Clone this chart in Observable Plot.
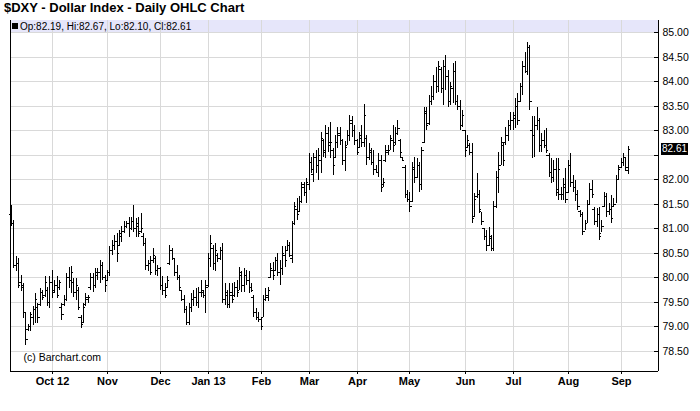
<!DOCTYPE html>
<html>
<head>
<meta charset="utf-8">
<script src="https://cdn.jsdelivr.net/npm/d3@7"></script>
<script src="https://cdn.jsdelivr.net/npm/@observablehq/plot@0.6"></script>
<style>
  html, body { margin: 0; padding: 0; background: #fff; }
  #wrap { position: relative; width: 700px; height: 411px; overflow: hidden; font-family: "Liberation Sans", Arial, sans-serif; }
  #title { position: absolute; left: 4px; top: 0px; font: bold 13px "Liberation Sans", Arial, sans-serif; line-height: 16px; color: #000; white-space: nowrap; }
  #hdr { position: absolute; left: 12px; top: 21px; font: 10px "Liberation Sans", Arial, sans-serif; line-height: 11px; color: #000; white-space: nowrap; }
  #hdr .sq { display: inline-block; width: 6px; height: 6px; background: #000; margin-right: 2px; vertical-align: 1px; }
  #last { position: absolute; left: 661px; width: 27px; height: 12px; background: #000; color: #fff; font: 10px "Liberation Sans", Arial, sans-serif; line-height: 12px; text-align: center; }
</style>
</head>
<body>
<div id="wrap">
  <div id="chart"></div>
  <div id="title">$DXY - Dollar Index - Daily OHLC Chart</div>
  <div id="hdr"></div>
  <div id="last"></div>
</div>
<script>
// Daily bars, Sep 6 2012 .. Sep 6 2013 (one row of numbers per month)
const open = [
  81.30,81.10,80.25,80.30,79.90,79.80,79.30,78.95,79.00,79.20,79.35,79.40,79.45,79.70,79.65,79.75,79.50,
  79.90,79.75,79.85,79.80,79.40,79.45,79.55,80.00,79.95,79.90,79.70,79.75,79.20,79.10,79.45,79.55,79.80,80.00,79.85,80.05,80.10,80.25,80.00,
  79.95,80.10,80.55,80.65,80.75,80.65,80.85,80.95,81.05,81.10,81.00,81.15,81.00,81.05,80.95,80.85,80.70,80.25,80.30,80.35,80.40,80.15,
  80.20,79.85,79.75,79.80,80.30,80.55,80.39,80.10,80.00,79.75,79.55,79.35,79.10,79.40,79.55,79.60,79.50,79.70,79.70,79.65,
  79.85,80.40,80.60,80.30,80.45,80.40,80.55,79.55,79.65,79.45,79.65,79.65,79.80,79.75,80.05,79.85,80.05,79.95,79.80,79.60,79.30,79.20,
  79.15,79.20,79.55,79.60,80.00,80.15,80.15,80.35,80.10,80.20,80.45,80.55,80.65,80.40,81.10,81.40,81.35,81.55,81.85,81.75,
  81.90,82.35,82.10,82.45,82.30,82.40,82.80,82.55,82.95,82.70,82.60,82.45,82.75,82.90,82.80,82.40,82.70,82.90,83.15,83.00,
  82.80,82.65,82.85,82.75,82.85,82.45,82.55,82.35,82.20,82.15,82.40,81.90,82.40,82.55,82.60,82.80,82.75,82.95,82.80,82.45,82.25,81.70,
  81.60,81.55,82.20,82.05,82.30,81.90,82.75,83.35,83.15,83.60,83.70,84.00,83.90,84.25,83.85,84.30,84.10,83.60,83.85,84.20,83.60,83.50,83.10,
  83.00,82.65,82.70,82.55,81.25,81.65,81.70,81.35,81.00,80.85,80.65,80.80,80.60,81.45,82.05,82.30,82.70,82.75,82.90,83.10,
  83.20,83.25,83.50,83.60,83.90,84.30,84.20,84.70,83.00,82.90,83.10,83.20,82.70,82.80,82.70,82.50,82.15,82.05,82.20,81.80,81.70,81.70,81.85,
  81.75,82.30,81.95,81.85,81.70,81.35,81.30,80.95,81.10,81.50,81.80,81.40,81.15,81.30,80.90,81.45,81.65,81.35,81.40,81.45,81.50,82.00,
  82.25,82.35,82.45,82.19
];
const high = [
  81.48,81.17,80.43,80.39,80.05,79.88,79.30,79.05,79.30,79.41,79.68,79.47,79.78,79.75,80.02,79.81,80.02,
  80.15,79.95,80.02,79.95,79.47,79.64,80.09,80.22,80.24,79.98,79.98,79.81,79.24,79.47,79.68,79.64,80.09,80.09,80.19,80.19,80.36,80.32,80.05,
  80.15,80.63,80.76,80.87,80.90,80.97,81.04,81.14,81.14,81.24,81.24,81.48,81.20,81.24,81.31,80.90,80.80,80.36,80.43,80.59,80.43,80.26,
  80.22,80.02,79.88,80.02,80.66,80.59,80.39,80.26,80.05,79.75,79.64,79.41,79.47,79.68,79.75,79.78,79.81,79.95,79.75,79.95,
  80.49,80.87,80.66,80.70,80.49,80.62,80.70,79.88,79.75,79.88,79.88,79.90,79.95,80.22,80.12,80.19,80.15,80.12,79.88,79.64,79.37,79.30,
  79.20,79.64,79.78,79.81,80.29,80.32,80.42,80.49,80.36,80.63,80.63,80.76,80.73,81.14,81.54,81.61,81.65,81.95,81.95,82.02,
  82.53,82.46,82.53,82.60,82.63,82.97,82.83,83.11,83.07,83.17,82.63,82.90,83.07,83.07,82.83,82.77,83.00,83.31,83.28,83.11,
  82.83,82.97,83.11,83.53,82.90,82.73,82.63,82.59,82.29,82.53,82.49,82.02,82.70,82.70,82.90,83.11,83.07,83.21,82.83,82.46,82.29,81.78,
  81.75,82.36,82.46,82.43,82.36,82.66,83.48,83.48,83.72,83.89,84.12,84.29,84.40,84.29,84.43,84.53,84.23,83.99,84.36,84.40,83.72,83.62,83.41,
  83.00,82.90,82.73,82.73,81.71,82.12,81.78,81.34,81.00,80.96,81.03,80.87,81.55,82.16,82.56,82.87,82.73,83.07,83.21,83.38,
  83.38,83.65,83.75,83.96,84.40,84.60,84.80,84.73,83.28,83.28,83.48,83.24,82.94,83.00,83.04,82.53,82.43,82.39,82.43,82.43,81.85,82.02,82.22,
  82.39,82.53,82.09,81.99,81.78,81.38,81.34,81.17,81.58,81.92,81.99,81.44,81.41,81.44,81.17,81.75,81.71,81.51,81.68,81.61,82.09,82.29,
  82.43,82.53,82.46,82.67
];
const low = [
  81.04,80.19,80.12,79.78,79.72,79.18,78.63,78.90,78.90,79.03,79.07,79.07,79.41,79.54,79.61,79.41,79.37,
  79.58,79.68,79.58,79.75,79.14,79.41,79.51,79.78,79.68,79.61,79.54,79.34,78.97,79.07,79.41,79.47,79.75,79.71,79.78,79.95,79.88,79.95,79.71,
  79.92,80.02,80.46,80.56,80.32,80.63,80.73,80.90,81.00,80.83,80.97,80.93,80.83,80.83,80.90,80.63,80.15,80.12,80.05,80.29,80.05,80.02,
  79.75,79.64,79.58,79.78,80.26,80.36,80.02,79.95,79.75,79.51,79.27,79.03,79.03,79.30,79.41,79.41,79.37,79.61,79.58,79.27,
  79.81,80.22,80.15,80.12,80.32,80.35,79.47,79.44,79.37,79.37,79.47,79.61,79.61,79.75,79.71,79.71,79.85,79.68,79.71,79.20,79.13,79.10,
  78.92,79.20,79.51,79.51,79.98,79.95,80.12,80.02,79.85,80.05,80.22,80.53,80.42,80.29,81.07,81.17,81.34,81.51,81.65,81.51,
  81.78,82.12,81.95,82.12,81.99,82.12,82.46,82.43,82.56,82.43,82.09,82.43,82.63,82.70,82.29,82.16,82.70,82.77,82.87,82.70,
  82.50,82.63,82.66,82.66,82.29,82.39,82.29,82.09,82.12,82.05,81.75,81.85,82.36,82.49,82.59,82.56,82.70,82.90,82.43,82.39,81.61,81.54,
  81.34,81.54,81.92,82.02,81.75,81.78,82.73,83.00,83.11,83.51,83.61,83.75,83.78,83.75,83.51,83.82,83.48,83.51,83.55,83.51,83.41,83.00,83.07,
  82.46,82.63,82.49,81.10,81.24,81.61,81.31,81.07,80.76,80.53,80.63,80.53,80.53,81.41,81.71,82.29,82.26,82.70,82.77,83.00,
  83.00,83.04,83.11,83.58,83.72,84.16,84.12,83.41,82.43,82.46,83.00,82.56,82.56,82.63,82.53,82.05,81.92,81.95,81.65,81.58,81.58,81.58,81.51,
  81.71,81.85,81.75,81.55,81.38,81.24,80.87,80.97,81.10,81.48,81.61,81.07,81.03,80.76,80.93,81.44,81.24,81.27,81.10,81.44,81.51,81.99,
  82.22,82.26,82.16,82.10
];
const close = [
  81.10,80.25,80.30,79.85,79.85,79.30,78.75,79.00,79.25,79.35,79.55,79.20,79.70,79.60,79.90,79.50,79.90,
  79.70,79.85,79.65,79.90,79.25,79.55,80.00,79.95,80.10,79.70,79.85,79.40,79.05,79.40,79.60,79.60,80.00,79.85,80.10,80.10,80.25,80.00,79.85,
  80.10,80.55,80.65,80.75,80.50,80.90,80.95,81.05,81.10,81.00,81.15,81.00,81.10,80.90,81.00,80.70,80.25,80.30,80.10,80.45,80.15,80.20,
  79.85,79.75,79.65,79.95,80.55,80.40,80.10,80.00,79.80,79.55,79.35,79.10,79.40,79.55,79.60,79.50,79.70,79.75,79.65,79.80,
  80.40,80.70,80.30,80.55,80.40,80.55,79.55,79.70,79.45,79.70,79.55,79.80,79.70,80.10,79.85,80.05,79.95,79.80,79.75,79.30,79.20,79.15,
  79.00,79.55,79.65,79.75,80.20,80.05,80.35,80.10,80.20,80.50,80.35,80.65,80.45,81.10,81.45,81.30,81.55,81.90,81.75,81.95,
  82.35,82.20,82.45,82.30,82.50,82.85,82.60,82.95,82.75,82.75,82.30,82.75,82.95,82.80,82.40,82.65,82.90,83.20,83.00,82.80,
  82.55,82.90,82.75,83.30,82.45,82.60,82.35,82.20,82.15,82.40,81.85,81.95,82.60,82.60,82.85,82.70,82.95,83.05,82.55,82.40,81.70,81.60,
  81.45,82.25,82.05,82.30,81.90,82.60,83.40,83.10,83.60,83.70,84.00,83.90,84.30,83.85,84.30,84.10,83.60,83.90,84.20,83.60,83.50,83.10,83.30,
  82.60,82.80,82.55,81.20,81.60,81.70,81.40,81.15,80.85,80.65,80.85,80.60,81.45,82.05,82.20,82.75,82.40,82.90,83.10,83.20,
  83.30,83.50,83.20,83.90,84.30,84.20,84.70,83.60,82.90,83.10,83.20,82.70,82.80,82.70,82.60,82.15,82.05,82.20,81.75,82.20,81.70,81.90,81.60,
  82.30,81.95,81.85,81.70,81.45,81.30,80.95,81.10,81.50,81.80,81.70,81.15,81.30,80.85,81.05,81.65,81.35,81.40,81.20,81.50,82.00,82.20,
  82.35,82.45,82.25,82.61
];
// index of the first bar of each month, and its label
const monthStart  = [17, 40, 62, 82, 104, 124, 144, 166, 189, 209, 232, 254];
const monthLabels = ["Oct 12","Nov","Dec","Jan 13","Feb","Mar","Apr","May","Jun","Jul","Aug","Sep"];
const priceTicks  = [78.5, 79, 79.5, 80, 80.5, 81, 81.5, 82, 82.5, 83, 83.5, 84, 84.5, 85];

const N = high.length;
const bars = high.map((h, i) => ({i, o: open[i], h, l: low[i], c: close[i]}));
const lastClose = close[N - 1];
// labels hidden behind the last-price marker (as in the reference)
const labelTicks = priceTicks.filter(t => Math.abs(t - lastClose) > 0.2);

const step = 2.4;                 // pixels per trading day
const xLo = -1 / step, xHi = xLo + 648 / step;
const yLo = 78.092, yHi = 85.245;
const fmt = d3.format(".2f");
const font = "'Liberation Sans', Arial, sans-serif";

const plot = Plot.plot({
  width: 700, height: 411,
  marginLeft: 10, marginRight: 42, marginTop: 20, marginBottom: 40,
  style: {background: "#fff", fontFamily: font, fontSize: "10px", color: "#000", overflow: "visible"},
  x: {type: "linear", domain: [xLo, xHi], round: true, label: null},
  y: {domain: [yLo, yHi], round: true, label: null},
  marks: [
    Plot.rect([0], {x1: xLo, x2: xHi, y1: 85, y2: yHi, fill: "#e6e6fa"}),
    Plot.gridY(priceTicks, {stroke: "#d9d9d9", strokeOpacity: 1}),
    Plot.gridX(monthStart, {stroke: "#d9d9d9", strokeOpacity: 1}),
    Plot.text(["(c) Barchart.com"], {frameAnchor: "bottom-left", dx: 13, dy: -14, lineAnchor: "middle", textAnchor: "start", fontSize: 10.5, fill: "#000"}),
    Plot.ruleX(bars, {x: "i", y1: "l", y2: "h", stroke: "#000"}),
    Plot.ruleY(bars, {y: "o", x1: d => d.i - 0.9, x2: "i", stroke: "#000"}),
    Plot.ruleY(bars, {y: "c", x1: "i", x2: d => d.i + 0.9, stroke: "#000"}),
    Plot.ruleX([xLo, xHi], {stroke: "#000"}),
    Plot.ruleY([yLo], {stroke: "#000"}),
    Plot.axisY(priceTicks, {anchor: "right", tickSize: 5, dx: -5, text: null, stroke: "#000"}),
    Plot.axisY(labelTicks, {anchor: "right", tickSize: 0, tickPadding: 4, tickFormat: fmt, fontSize: 10.5, fill: "#000"}),
    Plot.axisX(monthStart, {anchor: "bottom", tickSize: 3, tickPadding: 3, tickFormat: d => monthLabels[monthStart.indexOf(d)], fontSize: 11, fontWeight: "bold", fill: "#000", stroke: "#000"})
  ]
});
document.getElementById("chart").appendChild(plot);

const last = N - 1;
document.getElementById("hdr").innerHTML =
  '<span class="sq"></span>Op:' + fmt(open[last]) + ', Hi:' + fmt(high[last]) +
  ', Lo:' + fmt(low[last]) + ', Cl:' + fmt(close[last]);
const yLast = plot.scale("y").apply(lastClose);
const box = document.getElementById("last");
box.textContent = fmt(lastClose);
box.style.top = (yLast - 6) + "px";
</script>
</body>
</html>
